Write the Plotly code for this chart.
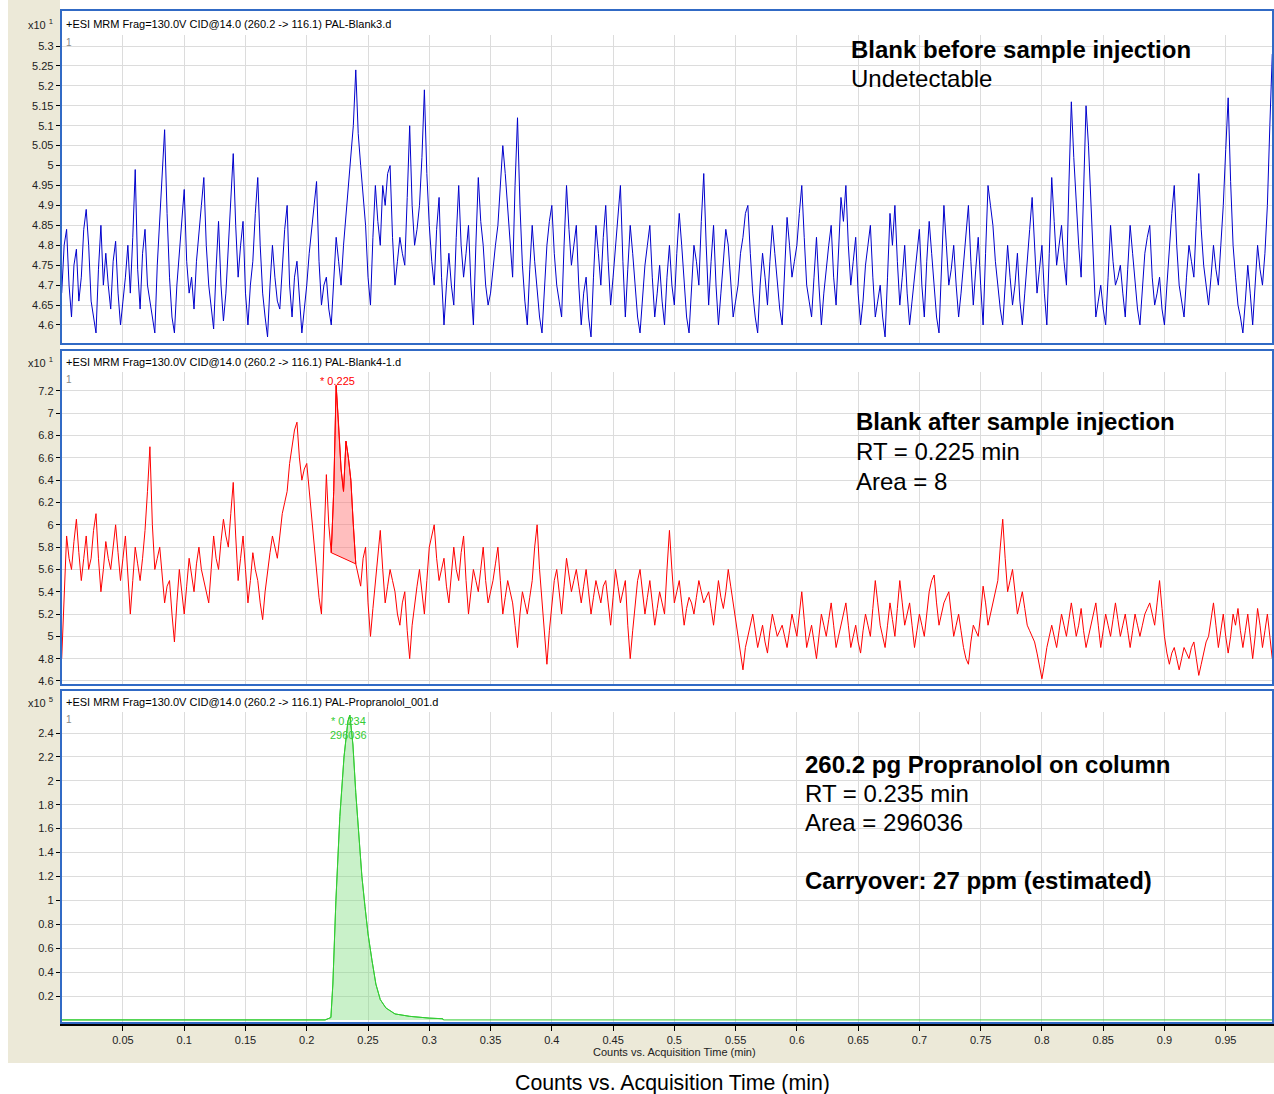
import plotly.graph_objects as go

# ---------------- DATA ----------------
SAMPLE_STEP = 0.002  # min between plotted samples

# Panel 1: PAL-Blank3.d (counts x10^1)
blank3_counts = [
    4.68, 4.80, 4.84, 4.70, 4.62, 4.75, 4.79, 4.66, 4.72, 4.84, 4.89, 4.80, 4.66, 4.62, 4.58, 4.74, 4.85, 4.70, 4.78, 4.70,
    4.64, 4.76, 4.81, 4.68, 4.60, 4.66, 4.72, 4.80, 4.68, 4.82, 4.99, 4.74, 4.64, 4.78, 4.84, 4.70, 4.66, 4.62, 4.58, 4.75,
    4.86, 4.95, 5.09, 4.88, 4.72, 4.62, 4.58, 4.70, 4.78, 4.86, 4.94, 4.76, 4.68, 4.72, 4.64, 4.76, 4.84, 4.90, 4.97, 4.80,
    4.70, 4.64, 4.59, 4.74, 4.86, 4.70, 4.61, 4.68, 4.80, 4.92, 5.03, 4.85, 4.72, 4.80, 4.86, 4.68, 4.60, 4.70, 4.76, 4.88,
    4.97, 4.80, 4.68, 4.62, 4.57, 4.70, 4.80, 4.72, 4.66, 4.64, 4.73, 4.84, 4.90, 4.70, 4.62, 4.72, 4.76, 4.66, 4.58, 4.64,
    4.70, 4.78, 4.85, 4.90, 4.96, 4.76, 4.65, 4.70, 4.72, 4.64, 4.60, 4.72, 4.82, 4.76, 4.70, 4.80, 4.88, 4.94, 5.02, 5.10,
    5.24, 5.08, 5.00, 4.92, 4.85, 4.72, 4.65, 4.82, 4.95, 4.86, 4.80, 4.95, 4.90, 4.98, 5.00, 4.82, 4.70, 4.76, 4.82, 4.78,
    4.75, 4.92, 5.10, 4.90, 4.80, 4.84, 4.90, 5.02, 5.19, 4.98, 4.85, 4.76, 4.70, 4.84, 4.92, 4.72, 4.60, 4.70, 4.78, 4.70,
    4.65, 4.82, 4.95, 4.80, 4.72, 4.78, 4.85, 4.70, 4.60, 4.80, 4.97, 4.86, 4.80, 4.70, 4.65, 4.68, 4.75, 4.80, 4.85, 4.96,
    5.05, 4.98, 4.90, 4.80, 4.72, 4.95, 5.12, 4.90, 4.75, 4.66, 4.60, 4.74, 4.85, 4.76, 4.68, 4.62, 4.58, 4.70, 4.80, 4.86,
    4.90, 4.78, 4.70, 4.66, 4.62, 4.80, 4.95, 4.84, 4.75, 4.80, 4.85, 4.70, 4.60, 4.68, 4.72, 4.62, 4.57, 4.72, 4.85, 4.78,
    4.70, 4.82, 4.90, 4.76, 4.65, 4.72, 4.80, 4.88, 4.95, 4.76, 4.62, 4.74, 4.85, 4.78, 4.70, 4.62, 4.58, 4.66, 4.75, 4.80,
    4.85, 4.72, 4.62, 4.68, 4.75, 4.66, 4.60, 4.72, 4.80, 4.70, 4.65, 4.78, 4.88, 4.80, 4.70, 4.62, 4.58, 4.70, 4.80, 4.76,
    4.70, 4.86, 4.98, 4.80, 4.65, 4.76, 4.85, 4.70, 4.60, 4.68, 4.75, 4.84, 4.80, 4.70, 4.62, 4.66, 4.70, 4.78, 4.82, 4.88,
    4.90, 4.78, 4.68, 4.62, 4.58, 4.70, 4.78, 4.72, 4.65, 4.76, 4.85, 4.78, 4.70, 4.64, 4.60, 4.74, 4.87, 4.80, 4.72, 4.76,
    4.80, 4.88, 4.95, 4.82, 4.70, 4.66, 4.62, 4.72, 4.82, 4.70, 4.60, 4.68, 4.75, 4.80, 4.85, 4.72, 4.65, 4.80, 4.92, 4.86,
    4.95, 4.80, 4.70, 4.76, 4.82, 4.68, 4.60, 4.66, 4.75, 4.80, 4.85, 4.72, 4.62, 4.66, 4.70, 4.62, 4.57, 4.72, 4.88, 4.80,
    4.90, 4.76, 4.65, 4.72, 4.80, 4.68, 4.60, 4.66, 4.72, 4.78, 4.84, 4.70, 4.62, 4.76, 4.86, 4.78, 4.70, 4.62, 4.58, 4.74,
    4.90, 4.80, 4.70, 4.74, 4.80, 4.70, 4.62, 4.68, 4.75, 4.84, 4.90, 4.76, 4.65, 4.74, 4.82, 4.70, 4.60, 4.78, 4.95, 4.90,
    4.85, 4.76, 4.70, 4.64, 4.60, 4.70, 4.80, 4.72, 4.65, 4.70, 4.78, 4.66, 4.60, 4.68, 4.75, 4.84, 4.92, 4.78, 4.68, 4.74,
    4.80, 4.68, 4.60, 4.78, 4.97, 4.86, 4.75, 4.80, 4.85, 4.76, 4.70, 4.95, 5.16, 5.02, 4.90, 4.80, 4.72, 4.94, 5.15, 5.05,
    4.90, 4.74, 4.62, 4.66, 4.70, 4.64, 4.60, 4.72, 4.85, 4.76, 4.70, 4.72, 4.75, 4.68, 4.62, 4.74, 4.85, 4.78, 4.70, 4.64,
    4.60, 4.70, 4.78, 4.82, 4.85, 4.72, 4.65, 4.68, 4.72, 4.64, 4.60, 4.70, 4.80, 4.88, 4.95, 4.80, 4.70, 4.66, 4.62, 4.72,
    4.80, 4.76, 4.72, 4.86, 4.98, 4.84, 4.75, 4.70, 4.65, 4.72, 4.80, 4.74, 4.70, 4.80, 4.90, 5.04, 5.17, 4.96, 4.80, 4.72,
    4.65, 4.62, 4.58, 4.66, 4.75, 4.68, 4.60, 4.70, 4.80, 4.74, 4.70, 4.78, 4.90, 5.10, 5.28,
]

# Panel 2: PAL-Blank4-1.d (counts x10^1)
blank4_counts = [
    4.80, 5.40, 5.90, 5.70, 5.60, 5.85, 6.05, 5.75, 5.50, 5.70, 5.90, 5.60, 5.70, 5.95, 6.10, 5.70, 5.40, 5.60, 5.85, 5.70,
    5.60, 5.80, 6.00, 5.75, 5.50, 5.70, 5.90, 5.55, 5.20, 5.50, 5.80, 5.65, 5.50, 5.70, 5.95, 6.30, 6.70, 6.00, 5.60, 5.70,
    5.80, 5.55, 5.30, 5.45, 5.50, 5.20, 4.95, 5.30, 5.60, 5.40, 5.20, 5.45, 5.70, 5.55, 5.40, 5.65, 5.80, 5.60, 5.50, 5.40,
    5.30, 5.60, 5.90, 5.70, 5.60, 5.85, 6.05, 5.90, 5.80, 6.10, 6.38, 5.90, 5.50, 5.70, 5.90, 5.60, 5.30, 5.50, 5.75, 5.60,
    5.50, 5.30, 5.15, 5.40, 5.60, 5.75, 5.90, 5.80, 5.70, 5.90, 6.10, 6.20, 6.30, 6.55, 6.70, 6.85, 6.92, 6.60, 6.40, 6.50,
    6.55, 6.30, 6.10, 5.85, 5.60, 5.35, 5.20, 5.90, 6.45, 6.00, 5.75, 6.30, 7.25, 6.90, 6.50, 6.30, 6.75, 6.60, 6.40, 6.00,
    5.65, 5.55, 5.45, 5.70, 5.80, 5.30, 5.00, 5.25, 5.50, 5.70, 5.95, 5.60, 5.30, 5.45, 5.60, 5.50, 5.40, 5.20, 5.10, 5.30,
    5.40, 5.05, 4.80, 5.10, 5.30, 5.45, 5.60, 5.40, 5.20, 5.50, 5.80, 5.90, 6.00, 5.70, 5.50, 5.60, 5.70, 5.45, 5.30, 5.55,
    5.80, 5.60, 5.50, 5.75, 5.90, 5.50, 5.20, 5.40, 5.60, 5.50, 5.40, 5.60, 5.80, 5.50, 5.30, 5.40, 5.50, 5.65, 5.80, 5.50,
    5.20, 5.35, 5.50, 5.40, 5.30, 5.10, 4.90, 5.20, 5.40, 5.30, 5.20, 5.35, 5.50, 5.80, 6.00, 5.60, 5.30, 5.00, 4.75, 5.05,
    5.30, 5.50, 5.60, 5.40, 5.20, 5.45, 5.70, 5.55, 5.40, 5.50, 5.60, 5.45, 5.30, 5.45, 5.60, 5.40, 5.20, 5.35, 5.50, 5.40,
    5.30, 5.45, 5.50, 5.30, 5.10, 5.35, 5.60, 5.45, 5.30, 5.40, 5.50, 5.10, 4.80, 5.05, 5.30, 5.50, 5.60, 5.40, 5.20, 5.35,
    5.50, 5.30, 5.10, 5.25, 5.40, 5.30, 5.20, 5.60, 5.95, 5.60, 5.30, 5.40, 5.50, 5.30, 5.10, 5.25, 5.35, 5.30, 5.20, 5.35,
    5.50, 5.40, 5.30, 5.35, 5.40, 5.25, 5.10, 5.30, 5.50, 5.35, 5.25, 5.40, 5.60, 5.45, 5.30, 5.15, 5.00, 4.85, 4.70, 4.90,
    5.00, 5.10, 5.20, 5.05, 4.90, 5.00, 5.10, 4.95, 4.85, 5.05, 5.20, 5.10, 5.00, 5.05, 5.10, 5.00, 4.90, 5.05, 5.20, 5.10,
    5.00, 5.20, 5.40, 5.15, 4.90, 5.00, 5.10, 4.95, 4.80, 5.00, 5.20, 5.10, 5.00, 5.15, 5.30, 5.10, 4.90, 5.00, 5.10, 5.20,
    5.30, 5.10, 4.90, 5.00, 5.10, 4.95, 4.85, 5.05, 5.20, 5.10, 5.00, 5.25, 5.50, 5.30, 5.10, 5.00, 4.90, 5.10, 5.30, 5.15,
    5.00, 5.25, 5.50, 5.30, 5.10, 5.20, 5.30, 5.10, 4.90, 5.05, 5.20, 5.10, 5.00, 5.20, 5.40, 5.50, 5.55, 5.30, 5.10, 5.20,
    5.30, 5.35, 5.40, 5.20, 5.00, 5.10, 5.20, 5.05, 4.90, 4.80, 4.75, 4.95, 5.10, 5.05, 5.00, 5.20, 5.45, 5.30, 5.10, 5.20,
    5.30, 5.40, 5.50, 5.80, 6.05, 5.70, 5.40, 5.50, 5.60, 5.40, 5.20, 5.30, 5.40, 5.25, 5.10, 5.05, 5.00, 4.95, 4.85, 4.75,
    4.62, 4.75, 4.90, 5.00, 5.10, 5.00, 4.90, 5.05, 5.20, 5.10, 5.00, 5.15, 5.30, 5.15, 5.00, 5.10, 5.25, 5.05, 4.90, 5.00,
    5.10, 5.20, 5.30, 5.10, 4.90, 5.05, 5.20, 5.10, 5.00, 5.15, 5.30, 5.15, 5.00, 5.10, 5.20, 5.05, 4.90, 5.05, 5.20, 5.10,
    5.00, 5.10, 5.20, 5.25, 5.30, 5.20, 5.10, 5.30, 5.50, 5.25, 5.00, 4.85, 4.75, 4.85, 4.90, 4.80, 4.70, 4.80, 4.90, 4.85,
    4.80, 4.90, 4.95, 4.80, 4.65, 4.75, 4.85, 4.95, 5.00, 5.15, 5.30, 5.10, 4.90, 5.05, 5.20, 5.00, 4.85, 5.00, 5.20, 5.10,
    5.25, 5.05, 4.90, 5.05, 5.20, 5.00, 4.80, 5.00, 5.25, 5.10, 4.90, 5.05, 5.20, 5.00, 4.80,
]
blank4_integ_first = 110         # first sample of integrated peak
blank4_integ_last = 120          # last sample of integrated peak
blank4_baseline = [5.75, 5.65]   # integration baseline (start, end)
blank4_peak_rt = 0.225
blank4_peak_height = 7.25

# Panel 3: PAL-Propranolol_001.d (counts x10^5)
prop_time = [0.0, 0.215, 0.2197, 0.2213, 0.2238, 0.227, 0.2304, 0.2336, 0.2352,
             0.2377, 0.240, 0.2426, 0.245, 0.2475, 0.250, 0.2532, 0.2564, 0.260,
             0.2646, 0.272, 0.284, 0.300, 0.311, 0.3115, 0.989]
prop_counts = [0.0, 0.0, 0.02, 0.30, 1.00, 1.70, 2.20, 2.50, 2.55,
               2.30, 1.90, 1.50, 1.20, 0.95, 0.72, 0.50, 0.30, 0.17,
               0.10, 0.05, 0.03, 0.015, 0.01, 0.0, 0.0]
prop_fill_end = 23
prop_peak_rt = 0.234
prop_peak_area = "296036"

x_tick_vals = [0.05, 0.1, 0.15, 0.2, 0.25, 0.3, 0.35, 0.4, 0.45, 0.5,
               0.55, 0.6, 0.65, 0.7, 0.75, 0.8, 0.85, 0.9, 0.95]
x_tick_text = ["0.05", "0.1", "0.15", "0.2", "0.25", "0.3", "0.35", "0.4", "0.45", "0.5",
               "0.55", "0.6", "0.65", "0.7", "0.75", "0.8", "0.85", "0.9", "0.95"]
y1_tick_vals = [4.6, 4.65, 4.7, 4.75, 4.8, 4.85, 4.9, 4.95, 5.0, 5.05, 5.1, 5.15, 5.2, 5.25, 5.3]
y1_tick_text = ["4.6", "4.65", "4.7", "4.75", "4.8", "4.85", "4.9", "4.95", "5", "5.05",
                "5.1", "5.15", "5.2", "5.25", "5.3"]
y2_tick_vals = [4.6, 4.8, 5.0, 5.2, 5.4, 5.6, 5.8, 6.0, 6.2, 6.4, 6.6, 6.8, 7.0, 7.2]
y2_tick_text = ["4.6", "4.8", "5", "5.2", "5.4", "5.6", "5.8", "6", "6.2", "6.4",
                "6.6", "6.8", "7", "7.2"]
y3_tick_vals = [0.2, 0.4, 0.6, 0.8, 1.0, 1.2, 1.4, 1.6, 1.8, 2.0, 2.2, 2.4]
y3_tick_text = ["0.2", "0.4", "0.6", "0.8", "1", "1.2", "1.4", "1.6", "1.8", "2", "2.2", "2.4"]

titles = [
    "+ESI MRM Frag=130.0V CID@14.0 (260.2 -> 116.1) PAL-Blank3.d",
    "+ESI MRM Frag=130.0V CID@14.0 (260.2 -> 116.1) PAL-Blank4-1.d",
    "+ESI MRM Frag=130.0V CID@14.0 (260.2 -> 116.1) PAL-Propranolol_001.d",
]
exponents = ["1", "1", "5"]

# ---------------- LAYOUT HELPERS ----------------
W, H = 1274, 1094
def fx(px):
    return px / W
def fy(py):
    return 1 - py / H

BLUE_BORDER = "#316AC5"
BEIGE = "#ECE9D8"
GRID = "#DCDCDC"
FONT = "Liberation Sans, Arial, sans-serif"

t_blank3 = [i * SAMPLE_STEP for i in range(len(blank3_counts))]
t_blank4 = [i * SAMPLE_STEP for i in range(len(blank4_counts))]

fig = go.Figure()

# Panel 1
fig.add_trace(go.Scatter(x=t_blank3, y=blank3_counts, mode="lines",
                         line=dict(color="#0000CC", width=1), xaxis="x", yaxis="y",
                         hoverinfo="skip"))

# Panel 2 integrated area
seg_t = t_blank4[blank4_integ_first:blank4_integ_last + 1]
seg_v = blank4_counts[blank4_integ_first:blank4_integ_last + 1]
poly_x = seg_t + [seg_t[-1], seg_t[0], seg_t[0]]
poly_y = seg_v + [blank4_baseline[1], blank4_baseline[0], seg_v[0]]
fig.add_trace(go.Scatter(x=poly_x, y=poly_y, mode="lines", fill="toself",
                         fillcolor="rgba(255,110,110,0.45)", line=dict(color="#FF0000", width=1),
                         xaxis="x2", yaxis="y2", hoverinfo="skip"))
fig.add_trace(go.Scatter(x=t_blank4, y=blank4_counts, mode="lines",
                         line=dict(color="#FF0000", width=1), xaxis="x2", yaxis="y2",
                         hoverinfo="skip"))

# Panel 3
fig.add_trace(go.Scatter(x=prop_time[:prop_fill_end + 1], y=prop_counts[:prop_fill_end + 1],
                         mode="lines", fill="tozeroy", fillcolor="rgba(120,220,120,0.4)",
                         line=dict(color="#33CC33", width=1), xaxis="x3", yaxis="y3",
                         hoverinfo="skip"))
fig.add_trace(go.Scatter(x=prop_time, y=prop_counts, mode="lines",
                         line=dict(color="#33CC33", width=1), xaxis="x3", yaxis="y3",
                         hoverinfo="skip"))

# panel geometry in px: (title_top, plot_top, plot_bottom)
panels = [(10, 35, 345), (350, 372, 686), (690, 712, 1024)]
y_ranges = [[4.5498, 5.3276], [4.555, 7.370], [-0.0342, 2.5757]]
x_range = [0.0, 0.9894]
x_dom = [fx(61.7), 1.0]

axis_common = dict(showgrid=True, gridcolor=GRID, gridwidth=1, zeroline=False)
tickfont = dict(family=FONT, size=11, color="#222222")

layout = dict(
    width=W, height=H, margin=dict(l=0, r=0, t=0, b=0),
    paper_bgcolor="white", plot_bgcolor="white", showlegend=False,
    font=dict(family=FONT, color="black", size=11),
)

yticks = [(y1_tick_vals, y1_tick_text), (y2_tick_vals, y2_tick_text), (y3_tick_vals, y3_tick_text)]
for k in range(3):
    sfx = "" if k == 0 else str(k + 1)
    _, ptop, pbot = panels[k]
    xa = dict(axis_common, domain=x_dom, range=x_range, anchor="y" + sfx,
              tickvals=x_tick_vals, ticktext=x_tick_text)
    if k < 2:
        xa.update(showticklabels=False, ticks="", showline=False)
    else:
        xa.update(showticklabels=True, ticks="outside", ticklen=5, tickcolor="black",
                  showline=True, linecolor="black", linewidth=1.5, tickfont=tickfont)
    if k > 0:
        xa["matches"] = "x"
    layout["xaxis" + sfx] = xa
    tv, tt = yticks[k]
    layout["yaxis" + sfx] = dict(axis_common, domain=[fy(pbot), fy(ptop)], range=y_ranges[k],
                                 anchor="x" + sfx, tickvals=tv, ticktext=tt,
                                 ticks="outside", ticklen=4, tickcolor="black",
                                 showline=True, linecolor="black", linewidth=2,
                                 tickfont=tickfont)

shapes = [
    dict(type="rect", xref="paper", yref="paper", x0=fx(8), x1=fx(60), y0=fy(1063), y1=fy(0),
         fillcolor=BEIGE, line=dict(width=0), layer="below"),
    dict(type="rect", xref="paper", yref="paper", x0=fx(8), x1=1, y0=fy(1063), y1=fy(1026),
         fillcolor=BEIGE, line=dict(width=0), layer="below"),
]
annotations = []
for k in range(3):
    ttop, ptop, pbot = panels[k]
    shapes.append(dict(type="rect", xref="paper", yref="paper", x0=fx(61), x1=fx(1273),
                       y0=fy(pbot - 1), y1=fy(ttop), line=dict(color=BLUE_BORDER, width=2),
                       layer="above"))
    annotations.append(dict(text=titles[k], xref="paper", yref="paper", x=fx(64),
                            y=fy((ttop + ptop) / 2 + 1), xanchor="left", yanchor="middle",
                            showarrow=False, font=dict(family=FONT, size=11, color="black")))
    annotations.append(dict(text="x10 <sup>" + exponents[k] + "</sup>", xref="paper", yref="paper",
                            x=fx(55), y=fy((ttop + ptop) / 2 + 1), xanchor="right", yanchor="middle",
                            showarrow=False, font=dict(family=FONT, size=11, color="#222222")))
    annotations.append(dict(text="1", xref="paper", yref="paper", x=fx(64), y=fy(ptop + 7),
                            xanchor="left", yanchor="middle", showarrow=False,
                            font=dict(family=FONT, size=10, color="#888888")))

def note(text, xpx, ypx, size=24):
    annotations.append(dict(text=text, xref="paper", yref="paper", x=fx(xpx), y=fy(ypx),
                            xanchor="left", yanchor="middle", showarrow=False,
                            font=dict(family=FONT, size=size, color="black")))

note("<b>Blank before sample injection</b>", 849, 49)
note("Undetectable", 849, 78)
note("<b>Blank after sample injection</b>", 854, 422)
note("RT = 0.225 min", 854, 451)
note("Area = 8", 854, 481)
note("<b>260.2 pg Propranolol on column</b>", 803, 764)
note("RT = 0.235 min", 803, 793)
note("Area = 296036", 803, 822)
note("<b>Carryover: 27 ppm (estimated)</b>", 803, 880)

# peak labels
annotations.append(dict(text="* " + f"{blank4_peak_rt:.3f}",
                        x=blank4_peak_rt, y=fy(381), xref="x2", yref="paper",
                        xanchor="center", yanchor="middle", showarrow=False,
                        font=dict(family=FONT, size=11, color="#FF0000")))
annotations.append(dict(text="* " + f"{prop_peak_rt:.3f}" + "<br>" + prop_peak_area,
                        x=prop_peak_rt, y=fy(728), xref="x3", yref="paper",
                        xanchor="center", yanchor="middle", showarrow=False,
                        font=dict(family=FONT, size=11, color="#33CC33")))

# axis titles
annotations.append(dict(text="Counts vs. Acquisition Time (min)", xref="paper", yref="paper",
                        x=fx(674), y=fy(1052), xanchor="center", yanchor="middle",
                        showarrow=False, font=dict(family=FONT, size=11, color="#222222")))
annotations.append(dict(text="Counts vs. Acquisition Time (min)", xref="paper", yref="paper",
                        x=fx(672), y=fy(1083), xanchor="center", yanchor="middle",
                        showarrow=False, font=dict(family=FONT, size=21.3, color="black")))

layout["shapes"] = shapes
layout["annotations"] = annotations
fig.update_layout(**layout)

fig.write_html("out.html", config={"displayModeBar": False},
               post_script="document.body.style.margin='0px';document.body.style.overflow='hidden';")
